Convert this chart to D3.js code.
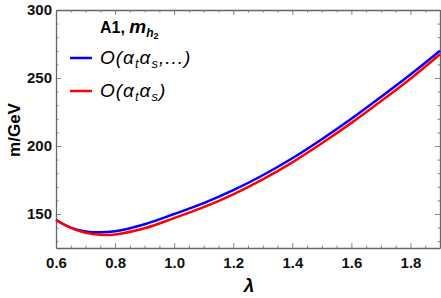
<!DOCTYPE html>
<html>
<head>
<meta charset="utf-8">
<script src="https://cdn.jsdelivr.net/npm/d3@7"></script>
<style>
  body { margin: 0; background: #fff; }
  svg text { font-family: "Liberation Sans", Arial, sans-serif; }
</style>
</head>
<body>
<div id="chart"></div>
<script>
// lambda values and the two mass curves (GeV)
const lambdas   = [0.6, 0.65, 0.7, 0.75, 0.8, 0.9, 1.0, 1.1, 1.2, 1.3, 1.4, 1.5, 1.6, 1.7, 1.8, 1.9];
const massFull  = [145.6, 140.0, 137.2, 136.5, 137.3, 142.5, 150.0, 158.0, 167.5, 178.5, 191.0, 205.0, 220.0, 236.0, 252.5, 270.0];
const massAtAs  = [145.6, 139.8, 136.2, 134.7, 135.0, 139.5, 147.0, 155.0, 164.5, 175.5, 188.0, 202.0, 217.0, 233.0, 249.5, 267.5];
const xTicks = [0.6, 0.8, 1.0, 1.2, 1.4, 1.6, 1.8];
const yTicks = [150, 200, 250, 300];

const width = 441, height = 298;
const margin = {top: 10, right: 1, bottom: 50, left: 56};
const w = width - margin.left - margin.right;
const h = height - margin.top - margin.bottom;

const svg = d3.select('#chart').append('svg')
    .attr('width', width)
    .attr('height', height);

const chart = svg.append('g')
    .attr('transform', `translate(${margin.left}, ${margin.top})`);

const x = d3.scaleLinear().domain([0.6, 1.9]).range([0, w]);
const y = d3.scaleLinear().domain([125, 300]).range([h, 0]);

const xMinor = d3.range(0.6, 1.9001, 0.05).filter(v => !xTicks.some(t => Math.abs(t - v) < 1e-6));
const yMinor = d3.range(130, 300.001, 10).filter(v => v % 50 !== 0);

const axisColor = '#666';

// draws one side of the frame: major + minor ticks pointing inward
function side(axisFn, scale, pos, majors, minors, labels) {
  const g = chart.append('g').attr('transform', pos);
  g.call(axisFn(scale).tickValues(minors).tickSize(-2.5).tickFormat(''));
  const gm = chart.append('g').attr('transform', pos);
  gm.call(axisFn(scale).tickValues(majors).tickSize(-5).tickSizeOuter(0)
      .tickFormat(labels ? (d => labels(d)) : ''));
  [g, gm].forEach(s => {
    s.select('.domain').attr('stroke', axisColor).attr('stroke-width', 1.3);
    s.selectAll('.tick line').attr('stroke', axisColor).attr('stroke-width', 0.8);
  });
  g.select('.domain').remove();
  return gm;
}

const xb = side(d3.axisBottom, x, `translate(0, ${h})`, xTicks, xMinor, d3.format('.1f'));
xb.selectAll('.tick text')
    .attr('y', 9)
    .attr('fill', '#111')
    .style('font-size', '15px')
    .style('font-weight', 'bold');

side(d3.axisTop, x, 'translate(0, 0)', xTicks, xMinor, null);

const yl = side(d3.axisLeft, y, 'translate(0, 0)', yTicks, yMinor, d3.format('d'));
yl.selectAll('.tick text')
    .attr('x', -4)
    .attr('fill', '#111')
    .style('font-size', '15px')
    .style('font-weight', 'bold');

side(d3.axisRight, y, `translate(${w}, 0)`, yTicks, yMinor, null);

// curves
const line = d3.line()
    .x((d, i) => x(lambdas[i]))
    .y(d => y(d))
    .curve(d3.curveCatmullRom.alpha(0.5));

chart.append('path')
    .datum(massFull)
    .attr('d', line)
    .attr('fill', 'none')
    .attr('stroke', '#0000ff')
    .attr('stroke-width', 2.5);

chart.append('path')
    .datum(massAtAs)
    .attr('d', line)
    .attr('fill', 'none')
    .attr('stroke', '#ff0000')
    .attr('stroke-width', 2.5);

// axis titles
svg.append('text')
    .attr('transform', 'translate(20, 130) rotate(-90)')
    .attr('text-anchor', 'middle')
    .style('font-size', '17px')
    .style('font-weight', 'bold')
    .text('m/GeV');

svg.append('text')
    .attr('x', 249)
    .attr('y', 292)
    .attr('text-anchor', 'middle')
    .style('font-size', '19px')
    .style('font-weight', 'bold')
    .style('font-style', 'italic')
    .text('λ');

// legend
const legend = svg.append('g');
const title = legend.append('text')
    .attr('x', 100)
    .attr('y', 33)
    .style('font-size', '16px')
    .style('font-weight', 'bold');
title.append('tspan').text('A1, ');
title.append('tspan').style('font-style', 'italic').style('font-size', '19px').text('m');
title.append('tspan').style('font-style', 'italic').style('font-size', '12px').attr('dy', 4).text('h');
title.append('tspan').style('font-size', '9px').attr('dy', 2).text('2');

const entries = [
  {color: '#0000ff', y: 58, parts: ['O(', 'α', 't', 'α', 's', ',...)']},
  {color: '#ff0000', y: 91, parts: ['O(', 'α', 't', 'α', 's', ')']}
];

entries.forEach(e => {
  legend.append('line')
      .attr('x1', 70).attr('x2', 92)
      .attr('y1', e.y).attr('y2', e.y)
      .attr('stroke', e.color)
      .attr('stroke-width', 2.5);
  const t = legend.append('text')
      .attr('x', 100)
      .attr('y', e.y + 6)
      .style('font-size', '19px')
      .style('font-style', 'italic')
      .style('letter-spacing', '1px');
  t.append('tspan').text(e.parts[0]);
  t.append('tspan').text(e.parts[1]);
  t.append('tspan').style('font-size', '13px').attr('dy', 4).text(e.parts[2]);
  t.append('tspan').attr('dy', -4).text(e.parts[3]);
  t.append('tspan').style('font-size', '13px').attr('dy', 4).text(e.parts[4]);
  t.append('tspan').attr('dy', -4).text(e.parts[5]);
});
</script>
</body>
</html>
